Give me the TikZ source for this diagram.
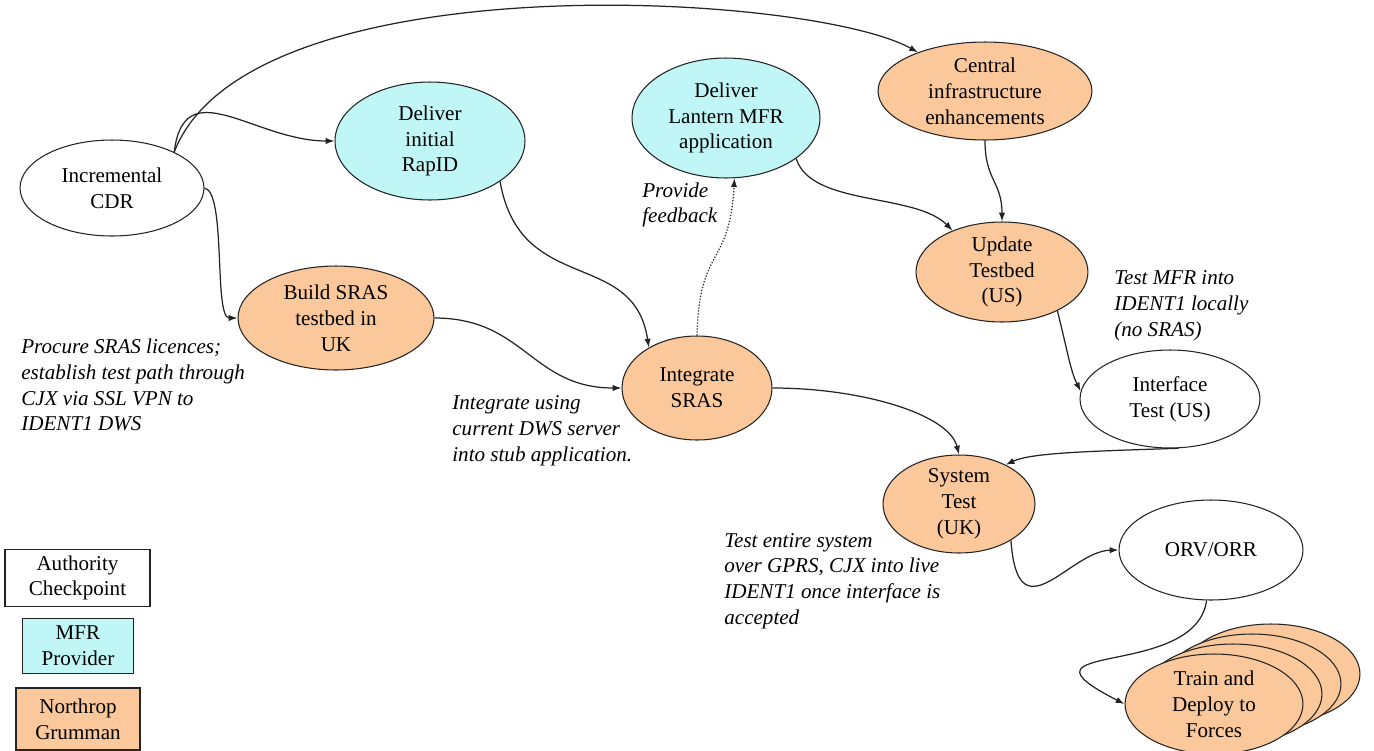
\documentclass[tikz,border=0pt]{standalone}
\usepackage{fontspec}
\setmainfont{Liberation Serif}
\usetikzlibrary{shapes.geometric, arrows.meta}
\definecolor{MFRCyan}{RGB}{192,246,246}
\definecolor{NGOrange}{RGB}{250,200,155}
\definecolor{LineGrey}{RGB}{35,35,35}
\tikzset{
  checkpoint/.style={ellipse, draw=LineGrey, fill=white, line width=0.6pt, inner sep=-3pt, align=center, font=\fontsize{12}{14.7}\selectfont},
  mfrtask/.style={checkpoint, fill=MFRCyan},
  ngtask/.style={checkpoint, fill=NGOrange},
  legendbox/.style={rectangle, draw=LineGrey, line width=0.8pt, inner sep=0pt, align=center, font=\fontsize{12}{14.7}\selectfont},
  note/.style={align=left, inner sep=0pt, font=\itshape\fontsize{12}{14.7}\selectfont},
  arrow/.style={-{Latex[length=5pt,width=3.6pt]}, line width=0.7pt, LineGrey},
  dottedarrow/.style={arrow, densely dotted}
}
\begin{document}
\begin{tikzpicture}[x=0.02cm, y=-0.02cm]
  \useasboundingbox (0,0) rectangle (1374,751);

  \node[checkpoint, minimum width=3.68cm, minimum height=1.92cm] (cdr) at (112,188) {Incremental\\CDR};
  \node[mfrtask, minimum width=3.8cm, minimum height=2.36cm] (rapid) at (430,141) {Deliver\\initial\\RapID};
  \node[mfrtask, minimum width=3.76cm, minimum height=2.4cm] (lantern) at (726,118) {Deliver\\Lantern MFR\\application};
  \node[ngtask, minimum width=4.28cm, minimum height=1.96cm] (central) at (985,91) {Central\\infrastructure\\enhancements};
  \node[ngtask, minimum width=3.44cm, minimum height=2cm] (update) at (1002,272) {Update\\Testbed\\(US)};
  \node[ngtask, minimum width=3.92cm, minimum height=2.08cm] (build) at (336,318) {Build SRAS\\testbed in\\UK};
  \node[ngtask, minimum width=3cm, minimum height=2.08cm] (integ) at (697,388) {Integrate\\SRAS};
  \node[checkpoint, minimum width=3.6cm, minimum height=1.96cm] (iface) at (1170,399) {Interface\\Test (US)};
  \node[ngtask, minimum width=3.04cm, minimum height=1.96cm] (systest) at (959,504) {System\\Test\\(UK)};
  \node[checkpoint, minimum width=3.68cm, minimum height=2cm] (orv) at (1211,550) {ORV/ORR};
  \node[ngtask, minimum width=3.56cm, minimum height=2cm] (train3) at (1271,674) {};
  \node[ngtask, minimum width=3.56cm, minimum height=2cm] (train2) at (1252,684) {};
  \node[ngtask, minimum width=3.56cm, minimum height=2cm] (train1) at (1233,694) {};
  \node[ngtask, minimum width=3.56cm, minimum height=2cm] (train) at (1214,704) {Train and\\Deploy to\\Forces};

  \node[legendbox, fill=white, minimum width=2.9cm, minimum height=1.14cm] (legauth) at (77.5,578) {Authority\\Checkpoint};
  \node[legendbox, fill=MFRCyan, minimum width=2.22cm, minimum height=1.1cm] (legmfr) at (78,646) {MFR\\Provider};
  \node[legendbox, fill=NGOrange, minimum width=2.48cm, minimum height=1.24cm] (legng) at (78,719) {Northrop\\Grumman};

  \node[note, anchor=west] (procurenote) at (21,385) {Procure SRAS licences;\\establish test path through\\CJX via SSL VPN to\\IDENT1 DWS};
  \node[note, anchor=west] (integnote) at (452,431) {Integrate using\\current DWS server\\into stub application.};
  \node[note, anchor=west] (feedbacknote) at (642,205) {Provide\\feedback};
  \node[note, anchor=west] (mfrnote) at (1114,306) {Test MFR into\\IDENT1 locally\\(no SRAS)};
  \node[note, anchor=west] (sysnote) at (724,581) {Test entire system\\over GPRS, CJX into live\\IDENT1 once interface is\\accepted};

  \draw[arrow] (cdr.30) .. controls +(74,-192) and +(-108,-60) .. (central.150);
  \draw[arrow] (cdr.30) .. controls +(10,-82) and +(-80,0) .. (rapid.west);
  \draw[arrow] (cdr.east) .. controls +(22,4) and +(-24,0) .. (build.west);
  \draw[arrow] (rapid.-30) .. controls +(20,115) and +(-15,-100) .. (integ.140);
  \draw[arrow] (build.east) .. controls +(90,0) and +(-90,0) .. (integ.west);
  \draw[dottedarrow] (integ.north) .. controls +(2,-90) and +(-5,90) .. (lantern.-82);
  \draw[arrow] (lantern.-30) .. controls +(15,48) and +(-38,-38) .. (update.140);
  \draw[arrow] (central.south) .. controls +(0,40) and +(0,-40) .. (update.north);
  \draw[arrow] (update.-35) .. controls +(10,40) and +(-10,-20) .. (iface.175);
  \draw[arrow] (integ.east) .. controls +(90,0) and +(-10,-40) .. (systest.north);
  \draw[arrow] (iface.-80) .. controls +(-90,3) and +(25,-12) .. (systest.40);
  \draw[arrow] (systest.-35) .. controls +(7,97) and +(-49,1) .. (orv.west);
  \draw[arrow] (orv.-95) .. controls +(-11,80) and +(-125,-64) .. (train.west);
\end{tikzpicture}
\end{document}
